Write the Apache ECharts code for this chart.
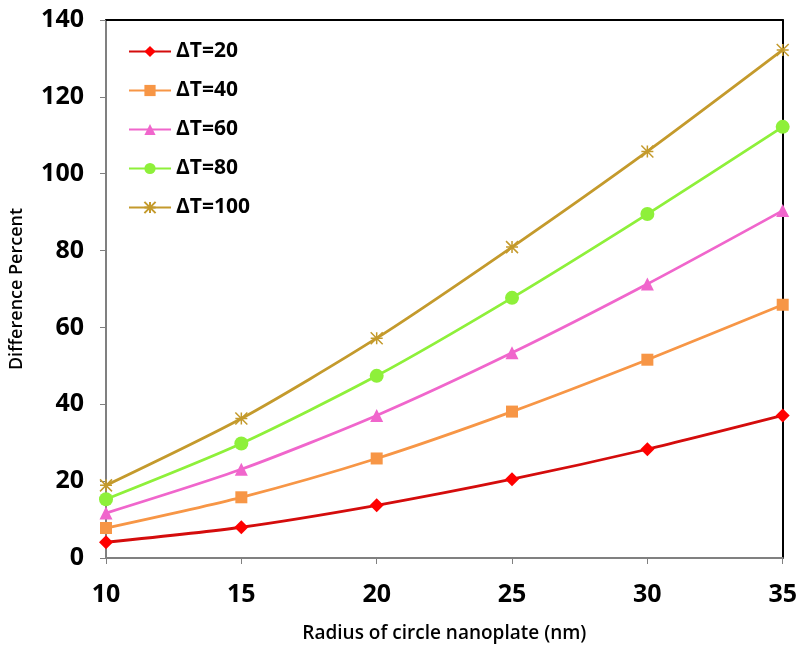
<!DOCTYPE html>
<html>
<head>
<meta charset="utf-8">
<script src="https://cdn.jsdelivr.net/npm/echarts@6/dist/echarts.min.js"></script>
<style>
  html, body { margin: 0; padding: 0; background: #fff; }
  #chart { width: 800px; height: 648px; }
</style>
</head>
<body>
<div id="chart"></div>
<script>
const radius = [10, 15, 20, 25, 30, 35];
const dT20 = [4.1, 8.0, 13.7, 20.5, 28.3, 37.1];
const dT40 = [7.8, 15.8, 25.9, 38.1, 51.6, 65.9];
const dT60 = [11.7, 23.1, 37.1, 53.4, 71.3, 90.4];
const dT80 = [15.3, 29.8, 47.4, 67.7, 89.5, 112.2];
const dT100 = [18.9, 36.3, 57.2, 80.9, 105.8, 132.2];

const font = 'Open Sans';
const asterisk = 'path://M0,0L10,10M10,0L0,10M5,0L5,10M0,5L10,5';

function makeSeries(name, values, color, lineColor, symbol, size, extra) {
    return Object.assign({
        name: name,
        type: 'line',
        smooth: 0.25,
        symbol: symbol,
        symbolSize: size,
        showAllSymbol: true,
        lineStyle: {color: lineColor, width: 2.8},
        itemStyle: {color: color},
        data: radius.map((r, i) => [r, values[i]]),
    }, extra || {});
}

const chart = echarts.init(document.getElementById('chart'));
chart.setOption({
    animation: false,
    grid: {left: 104, right: 16, top: 20, bottom: 89},
    legend: {
        orient: 'vertical',
        left: 123,
        top: 36,
        itemGap: 18,
        itemWidth: 42,
        itemHeight: 14,
        textStyle: {fontFamily: font, fontWeight: 'bold', fontSize: 21, color: '#000'},
        data: ['ΔT=20', 'ΔT=40', 'ΔT=60', 'ΔT=80', 'ΔT=100'],
    },
    xAxis: [{
        type: 'value',
        min: 10,
        max: 35,
        interval: 5,
        name: 'Radius of circle nanoplate (nm)',
        nameLocation: 'middle',
        nameGap: 66,
        nameTextStyle: {fontFamily: font, fontWeight: 600, fontSize: 19, color: '#000'},
        axisLine: {lineStyle: {color: '#808080', width: 2}},
        axisTick: {show: true, length: 6, lineStyle: {color: '#808080'}},
        axisLabel: {fontFamily: font, fontWeight: 'bold', fontSize: 25, color: '#000', margin: 24},
        splitLine: {show: false},
    }, {
        type: 'value',
        position: 'top',
        min: 10,
        max: 35,
        axisLine: {show: true, onZero: false, lineStyle: {color: '#000', width: 2}},
        axisTick: {show: false},
        axisLabel: {show: false},
        splitLine: {show: false},
    }],
    yAxis: [{
        type: 'value',
        min: 0,
        max: 140,
        interval: 20,
        name: 'Difference Percent',
        nameLocation: 'middle',
        nameGap: 80,
        nameTextStyle: {fontFamily: font, fontWeight: 600, fontSize: 18, color: '#000'},
        axisLine: {show: true, lineStyle: {color: '#808080', width: 2}},
        axisTick: {show: true, length: 6, lineStyle: {color: '#808080'}},
        axisLabel: {fontFamily: font, fontWeight: 'bold', fontSize: 25, color: '#000', margin: 22},
        splitLine: {show: false},
    }, {
        type: 'value',
        position: 'right',
        min: 0,
        max: 140,
        axisLine: {show: true, onZero: false, lineStyle: {color: '#000', width: 2}},
        axisTick: {show: false},
        axisLabel: {show: false},
        splitLine: {show: false},
    }],
    series: [
        makeSeries('ΔT=20', dT20, '#ff0000', '#d40c0c', 'diamond', 14),
        makeSeries('ΔT=40', dT40, '#f79646', '#f79646', 'rect', 12),
        makeSeries('ΔT=60', dT60, '#f066cc', '#f066cc', 'triangle', 13),
        makeSeries('ΔT=80', dT80, '#8ef03a', '#8ef03a', 'circle', 14),
        makeSeries('ΔT=100', dT100, 'rgba(0,0,0,0)', '#c49a2c', asterisk, 12, {
            itemStyle: {color: 'rgba(0,0,0,0)', borderColor: '#c49a2c', borderWidth: 1.5},
        }),
    ],
});
</script>
</body>
</html>
